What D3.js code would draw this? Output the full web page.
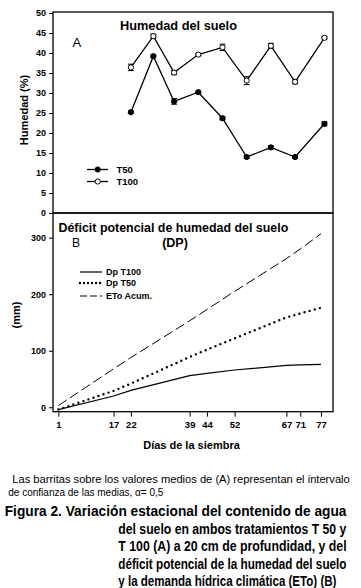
<!DOCTYPE html>
<html>
<head>
<meta charset="utf-8">
<script src="https://cdn.jsdelivr.net/npm/d3@7"></script>
<style>
  body { margin: 0; background: #fff; }
  text { font-family: "Liberation Sans", Arial, sans-serif; fill: #000; }
</style>
</head>
<body>
<div id="chart"></div>
<script>
const sampleDays = [22, 28.5, 34.5, 41.5, 48.5, 55.5, 62.5, 69.5, 78];
const humT50 = [25.2, 39.2, 27.9, 30.2, 23.7, 14, 16.4, 14, 22.3];
const humT100 = [36.4, 44.2, 35.1, 39.6, 41.4, 33.1, 41.8, 32.8, 43.8];
const errT50 = [0.3, 0.3, 0.7, 0.3, 0.4, 0.3, 0.4, 0.3, 0.5];
const errT100 = [0.8, 0.5, 0.5, 0.3, 0.8, 1.0, 0.6, 0.5, 0.3];
const humTicks = [0, 5, 10, 15, 20, 25, 30, 35, 40, 45, 50];

const days = [1, 17, 22, 39, 44, 52, 67, 71, 77];
const dpT100 = [-4, 20, 30, 56, 60, 66, 74, 75, 76];
const dpT50 = [-4, 29, 42, 89, 102, 122, 159, 166, 176];
const etoAcum = [3, 68, 88, 153, 173, 205, 263, 280, 307];
const mmTicks = [0, 100, 200, 300];

const noteLines = [
  "Las barritas sobre los valores medios de (A) representan el intervalo",
  "de confianza de las medias, \u03b1= 0,5"
];
const captionLines = [
  "Figura 2. Variación estacional del contenido de agua",
  "del suelo en ambos tratamientos T 50 y",
  "T 100 (A) a 20 cm de profundidad, y del",
  "déficit potencial de la humedad del suelo",
  "y la demanda hídrica climática (ETo) (B)"
];

const width = 361, height = 588;
const left = 53, right = 333;

const svg = d3.select("#chart").append("svg")
  .attr("width", width)
  .attr("height", height);

svg.append("rect").attr("width", width).attr("height", height).attr("fill", "#fff");

// squeeze a text horizontally to a given width
function fitText(sel, x0, y0, w) {
  const n = sel.node().getComputedTextLength();
  sel.attr("transform", `translate(${x0},${y0}) scale(${w / n},1)`);
}

const x = d3.scaleLinear().domain([1, 77]).range([58.3, 321]);

// panel A
const yA = d3.scaleLinear().domain([0, 50]).range([213, 13]);

svg.append("g")
  .attr("transform", `translate(${left},0)`)
  .call(d3.axisLeft(yA).tickValues(humTicks).tickSize(4).tickSizeOuter(0))
  .call(g => g.select(".domain").remove())
  .selectAll("text")
  .style("font-size", "9px")
  .style("font-weight", "bold")
  .attr("x", -7);

svg.append("rect")
  .attr("x", left).attr("y", 12)
  .attr("width", right - left).attr("height", 213 - 12)
  .attr("fill", "none").attr("stroke", "#000").attr("stroke-width", 1.3);

const lineA = d3.line().x((d, i) => x(sampleDays[i])).y(d => yA(d));

[[humT50, errT50, "#000"], [humT100, errT100, "#fff"]].forEach(([vals, errs, fill]) => {
  svg.append("path")
    .datum(vals)
    .attr("d", lineA)
    .attr("fill", "none")
    .attr("stroke", "#000")
    .attr("stroke-width", 1.3);

  const bars = svg.append("g").selectAll("g")
    .data(vals)
    .enter().append("g");
  bars.append("line")
    .attr("x1", (d, i) => x(sampleDays[i])).attr("x2", (d, i) => x(sampleDays[i]))
    .attr("y1", (d, i) => yA(d - errs[i])).attr("y2", (d, i) => yA(d + errs[i]))
    .attr("stroke", "#000");
  [-1, 1].forEach(s => {
    bars.append("line")
      .attr("x1", (d, i) => x(sampleDays[i]) - 3).attr("x2", (d, i) => x(sampleDays[i]) + 3)
      .attr("y1", (d, i) => yA(d + s * errs[i])).attr("y2", (d, i) => yA(d + s * errs[i]))
      .attr("stroke", "#000");
  });

  svg.append("g").selectAll("circle")
    .data(vals)
    .enter().append("circle")
    .attr("cx", (d, i) => x(sampleDays[i]))
    .attr("cy", d => yA(d))
    .attr("r", 2.6)
    .attr("fill", fill)
    .attr("stroke", "#000")
    .attr("stroke-width", 1);
});

svg.append("text")
  .style("font-size", "12.5px")
  .style("font-weight", "bold")
  .text("Humedad  del suelo")
  .call(fitText, 120, 30, 117);

svg.append("text")
  .attr("x", 72.5).attr("y", 47)
  .style("font-size", "13px")
  .text("A");

svg.append("text")
  .attr("transform", "translate(28,110) rotate(-90)")
  .attr("text-anchor", "middle")
  .style("font-size", "11px")
  .style("font-weight", "bold")
  .text("Humedad (%)");

const legendA = svg.append("g");
[["T50", "#000", 169.5], ["T100", "#fff", 181.5]].forEach(([name, fill, ly]) => {
  legendA.append("line")
    .attr("x1", 87).attr("x2", 108).attr("y1", ly).attr("y2", ly)
    .attr("stroke", "#000").attr("stroke-width", 1.3);
  legendA.append("circle")
    .attr("cx", 97.7).attr("cy", ly).attr("r", 2.6)
    .attr("fill", fill).attr("stroke", "#000");
  legendA.append("text")
    .attr("x", 116.5).attr("y", ly + 3.5)
    .style("font-size", "9.5px")
    .style("font-weight", "bold")
    .text(name);
});

// panel B
const yB = d3.scaleLinear().domain([-7.8, 343.7]).range([411.7, 213]);

svg.append("g")
  .attr("transform", `translate(${left},0)`)
  .call(d3.axisLeft(yB).tickValues(mmTicks).tickSize(4).tickSizeOuter(0))
  .call(g => g.select(".domain").remove())
  .selectAll("text")
  .style("font-size", "9px")
  .style("font-weight", "bold")
  .attr("x", -7);

svg.append("g")
  .attr("transform", "translate(0,411.7)")
  .call(d3.axisBottom(x).tickValues(days).tickSize(5).tickSizeOuter(0))
  .call(g => g.select(".domain").remove())
  .selectAll("text")
  .style("font-size", "9.5px")
  .style("font-weight", "bold")
  .attr("y", 10);

svg.append("rect")
  .attr("x", left).attr("y", 213)
  .attr("width", right - left).attr("height", 411.7 - 213)
  .attr("fill", "none").attr("stroke", "#000").attr("stroke-width", 1.3);

const lineB = d3.line().x((d, i) => x(days[i])).y(d => yB(d));

svg.append("path")
  .datum(etoAcum)
  .attr("d", lineB)
  .attr("fill", "none")
  .attr("stroke", "#000")
  .attr("stroke-width", 1)
  .attr("stroke-dasharray", "10,4");

svg.append("path")
  .datum(dpT50)
  .attr("d", lineB)
  .attr("fill", "none")
  .attr("stroke", "#000")
  .attr("stroke-width", 2.4)
  .attr("stroke-linecap", "round")
  .attr("stroke-dasharray", "0,5.3");

svg.append("path")
  .datum(dpT100)
  .attr("d", lineB)
  .attr("fill", "none")
  .attr("stroke", "#000")
  .attr("stroke-width", 1.2);

svg.append("text")
  .style("font-size", "12.5px")
  .style("font-weight", "bold")
  .text("Déficit potencial de humedad del suelo")
  .call(fitText, 58.5, 232, 230);

svg.append("text")
  .attr("x", 175).attr("y", 247)
  .attr("text-anchor", "middle")
  .style("font-size", "12.5px")
  .style("font-weight", "bold")
  .text("(DP)");

svg.append("text")
  .attr("x", 72).attr("y", 247)
  .style("font-size", "12px")
  .text("B");

svg.append("text")
  .attr("transform", "translate(20,315) rotate(-90)")
  .attr("text-anchor", "middle")
  .style("font-size", "11px")
  .style("font-weight", "bold")
  .text("(mm)");

const legendB = svg.append("g");
[["Dp T100", 272, {}], ["Dp T50", 283, { dash: "0,4", w: 2.4 }], ["ETo Acum.", 296, { dash: "7,3" }]]
  .forEach(([name, ly, st]) => {
    legendB.append("line")
      .attr("x1", 80).attr("x2", 102).attr("y1", ly).attr("y2", ly)
      .attr("stroke", "#000")
      .attr("stroke-width", st.w || 1.2)
      .attr("stroke-linecap", st.w ? "round" : "butt")
      .attr("stroke-dasharray", st.dash || null);
    legendB.append("text")
      .attr("x", 106).attr("y", ly + 3.3)
      .style("font-size", "9px")
      .style("font-weight", "bold")
      .text(name);
  });

svg.append("text")
  .attr("x", 191.5).attr("y", 449)
  .attr("text-anchor", "middle")
  .style("font-size", "11px")
  .style("font-weight", "bold")
  .text("Días de la siembra");

// notes and caption
svg.append("text")
  .style("font-size", "10px")
  .text(noteLines[0])
  .call(fitText, 12.3, 483, 338);
svg.append("text")
  .attr("x", 8.3).attr("y", 496)
  .style("font-size", "10px")
  .text(noteLines[1]);

const capY = [516, 533.5, 551, 568.5, 586];
captionLines.forEach((t, i) => {
  svg.append("text")
    .style("font-size", "14px")
    .style("font-weight", "bold")
    .text(t)
    .call(fitText, i === 0 ? 4.7 : 118.3, capY[i], i === 0 ? 342 : (i === 4 ? 218.4 : 228.4));
});
</script>
</body>
</html>
